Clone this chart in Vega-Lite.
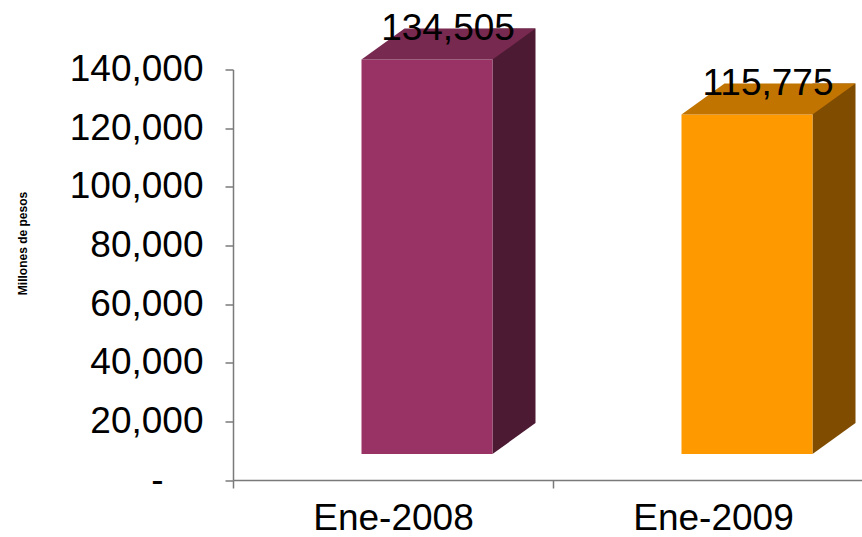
{
  "$schema": "https://vega.github.io/schema/vega-lite/v6.json",
  "autosize": "none",
  "width": 629,
  "height": 410.5,
  "padding": {"left": 233, "top": 69.5, "right": 0, "bottom": 57},
  "background": "white",
  "config": {"view": {"stroke": null}, "font": "Liberation Sans"},
  "data": {"values": [
    {"mes": "Ene-2008", "valor": 134505},
    {"mes": "Ene-2009", "valor": 115775}
  ]},
  "encoding": {
    "x": {
      "field": "mes", "type": "nominal", "sort": null,
      "scale": {"range": [0, 640], "paddingInner": 0, "paddingOuter": 0},
      "axis": {
        "title": null, "labelAngle": 0, "tickBand": "extent",
        "labelFont": "Liberation Sans", "labelFontSize": 37, "labelColor": "black",
        "labelPadding": 12, "tickSize": 8, "tickColor": "#7a7a7a", "tickWidth": 1.5,
        "domainColor": "#7a7a7a", "domainWidth": 1.5
      }
    }
  },
  "layer": [
    {
      "mark": {"type": "bar", "size": 43, "xOffset": 121, "yOffset": -57, "y2Offset": -57},
      "encoding": {
        "y": {
          "field": "valor", "type": "quantitative",
          "scale": {"domain": [0, 140000], "nice": false},
          "axis": {
            "title": "Millones de pesos",
            "titleFont": "Liberation Sans", "titleFontSize": 12, "titleFontWeight": "bold", "titleColor": "black",
            "titleAngle": -90, "titleX": -211, "titleY": 173.5, "titleAlign": "center", "titleBaseline": "middle",
            "values": [0, 20000, 40000, 60000, 80000, 100000, 120000, 140000],
            "format": ",.0f",
            "labelExpr": "datum.value == 0 ? '-' : datum.label",
            "labelFont": "Liberation Sans", "labelFontSize": 37, "labelColor": "black",
            "labelPadding": {"condition": {"test": "datum.value == 0", "value": 62}, "value": 22},
            "tickSize": 8, "tickColor": "#7a7a7a", "tickWidth": 1.5,
            "domainColor": "#7a7a7a", "domainWidth": 1.5, "grid": false
          }
        },
        "color": {"field": "mes", "type": "nominal", "legend": null,
          "scale": {"domain": ["Ene-2008", "Ene-2009"], "range": ["#4c1a33", "#7f4c00"]}}
      }
    },
    {
      "mark": {"type": "point", "shape": "M 99.5 -26 L 142.5 -57 L 99.5 -57 Z", "size": 4, "filled": true, "opacity": 1, "strokeWidth": 0},
      "encoding": {
        "y": {"datum": 0},
        "color": {"field": "mes", "type": "nominal", "legend": null,
          "scale": {"domain": ["Ene-2008", "Ene-2009"], "range": ["#4c1a33", "#7f4c00"]}}
      }
    },
    {
      "mark": {"type": "bar", "size": 131, "xOffset": 34, "yOffset": -26, "y2Offset": -26},
      "encoding": {
        "y": {"field": "valor", "type": "quantitative"},
        "color": {"field": "mes", "type": "nominal", "legend": null,
          "scale": {"domain": ["Ene-2008", "Ene-2009"], "range": ["#993366", "#ff9900"]}}
      }
    },
    {
      "mark": {"type": "point", "shape": "M -31.5 -26 L 99.5 -26 L 142.5 -57 L 11.5 -57 Z", "size": 4, "filled": true, "opacity": 1, "strokeWidth": 0},
      "encoding": {
        "y": {"field": "valor", "type": "quantitative"},
        "color": {"field": "mes", "type": "nominal", "legend": null,
          "scale": {"domain": ["Ene-2008", "Ene-2009"], "range": ["#77294f", "#c27400"]}}
      }
    },
    {
      "mark": {"type": "text", "dx": 55, "dy": -46, "align": "center", "baseline": "alphabetic", "font": "Liberation Sans", "fontSize": 37, "color": "black"},
      "encoding": {
        "y": {"field": "valor", "type": "quantitative"},
        "text": {"field": "valor", "type": "quantitative", "format": ","}
      }
    }
  ],
  "resolve": {"scale": {"color": "independent"}}
}
